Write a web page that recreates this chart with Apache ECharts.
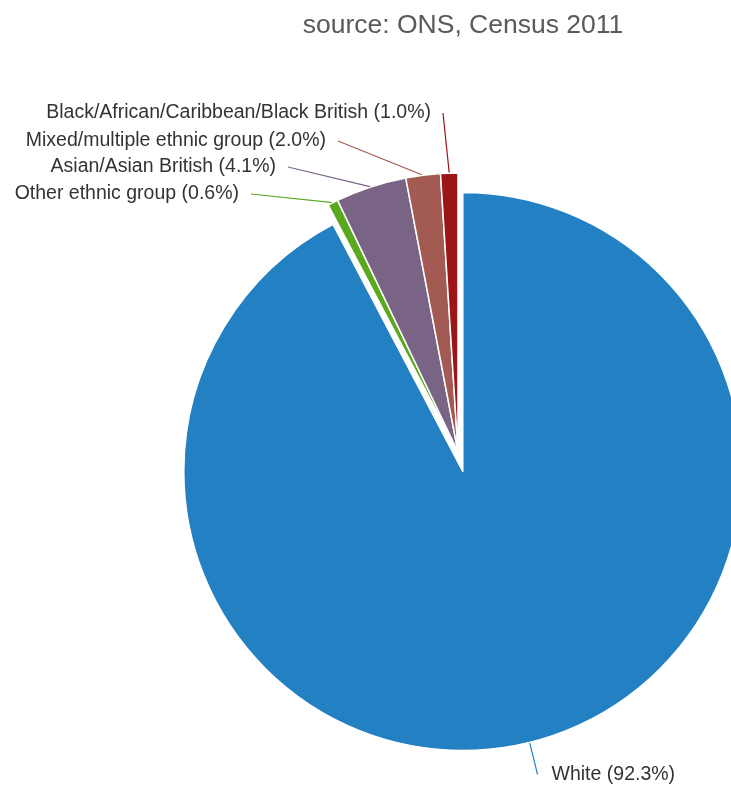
<!DOCTYPE html>
<html>
<head>
<meta charset="utf-8">
<script src="https://cdn.jsdelivr.net/npm/echarts@6/dist/echarts.min.js"></script>
<style>
  html, body { margin: 0; padding: 0; background: #fff; }
  #chart { width: 731px; height: 786px; }
</style>
</head>
<body>
<div id="chart"></div>
<script>
// Ethnic groups, Census 2011 (percent of population)
const groups = [
  'White',
  'Other ethnic group',
  'Asian/Asian British',
  'Mixed/multiple ethnic group',
  'Black/African/Caribbean/Black British'
];
const shares = [92.3, 0.6, 4.1, 2.0, 1.0];
const sliceColors = ['#2381c3', '#5aa81e', '#7a6485', '#a35a52', '#9a1618'];

// Label anchors for the small slices (right-aligned text, stacked on the left)
const labelSpots = {
  1: { x: 239, y: 194 },
  2: { x: 276, y: 167 },
  3: { x: 326, y: 141 },
  4: { x: 431, y: 113 }
};

const chart = echarts.init(document.getElementById('chart'), null, { renderer: 'canvas' });

chart.setOption({
  animation: false,
  title: {
    text: 'source: ONS, Census 2011',
    left: 458,
    top: 7,
    textAlign: 'center',
    textStyle: {
      fontFamily: 'Liberation Sans, Arial, sans-serif',
      fontSize: 26.5,
      fontWeight: 'normal',
      color: '#5a5a5a'
    }
  },
  series: [{
    type: 'pie',
    center: [458, 452],
    radius: 279,
    startAngle: 90,
    clockwise: true,
    selectedMode: 'single',
    selectedOffset: 20,
    avoidLabelOverlap: false,
    itemStyle: { borderColor: '#ffffff', borderWidth: 1.5 },
    emphasis: { disabled: true },
    label: {
      show: true,
      formatter: p => p.name + ' (' + p.value.toFixed(1) + '%)',
      fontFamily: 'Liberation Sans, Arial, sans-serif',
      fontSize: 19.5,
      color: '#333333'
    },
    labelLine: { show: true, lineStyle: { width: 1.2 } },
    labelLayout: function (params) {
      const pts = params.labelLinePoints;
      const s = labelSpots[params.dataIndex];
      if (!pts || !s) return {};
      return {
        x: s.x,
        y: s.y,
        align: 'right',
        verticalAlign: 'middle',
        labelLinePoints: [pts[0], [s.x + 12, s.y], [s.x + 12, s.y]]
      };
    },
    data: groups.map((g, i) => ({
      name: g,
      value: shares[i],
      selected: i === 0,
      itemStyle: { color: sliceColors[i] },
      label: i === 0 ? { distanceToLabelLine: 14 } : {},
      labelLine: i === 0
        ? { length: 33, length2: 0, lineStyle: { color: sliceColors[i] } }
        : { lineStyle: { color: sliceColors[i] } }
    }))
  }]
});
</script>
</body>
</html>
